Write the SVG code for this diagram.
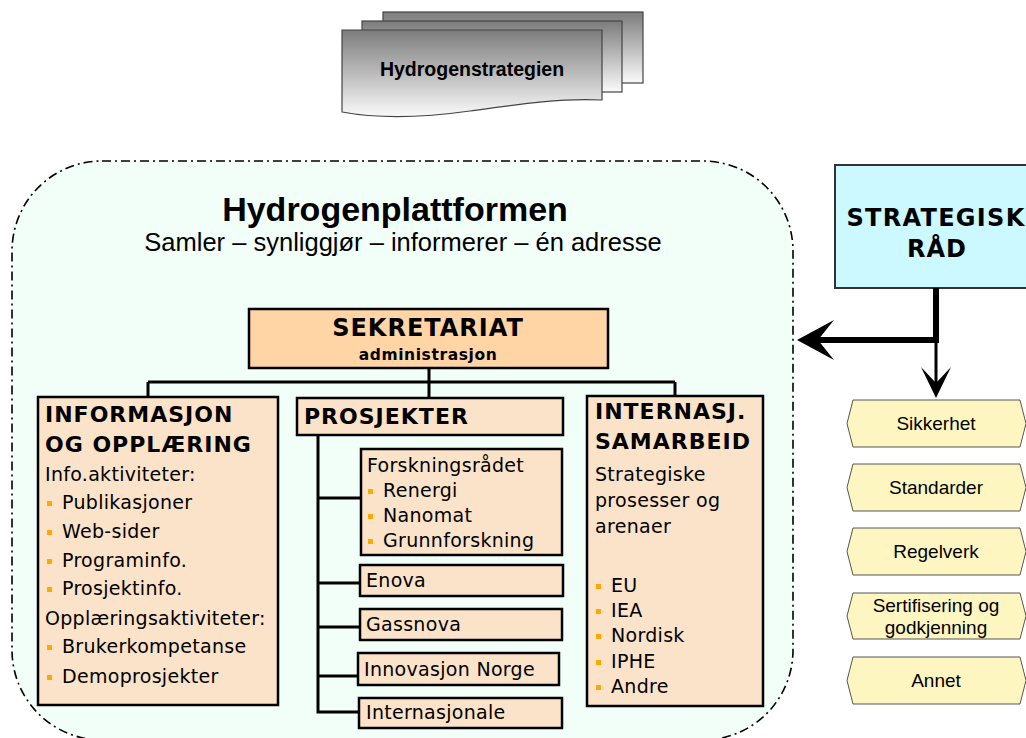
<svg xmlns="http://www.w3.org/2000/svg" width="1026" height="738" viewBox="0 0 1026 738">
<defs>
<linearGradient id="docGrad" x1="0" y1="0" x2="0" y2="1">
<stop offset="0" stop-color="#7c7c7c"/>
<stop offset="1" stop-color="#fafafa"/>
</linearGradient>
</defs>
<style>
.v{font-family:"DejaVu Sans",Verdana,sans-serif;fill:#000}
.b{font-weight:bold}
.h{font-size:22px;letter-spacing:1px}
.t{font-size:19px;letter-spacing:0.3px}
.a{font-family:"Liberation Sans",Arial,sans-serif;fill:#000}
.box{fill:#fbe3c9;stroke:#000;stroke-width:2.5}
.bul{fill:#ffa800}
.conn{stroke:#000;stroke-width:3;fill:none}
.doc{fill:url(#docGrad);stroke:#444;stroke-width:1.2}
.tag{fill:#fef6c0;stroke:#555;stroke-width:1}
.tagt{font-family:"Liberation Sans",Arial,sans-serif;font-size:19px;text-anchor:middle;fill:#000}
</style>
<rect width="1026" height="738" fill="#fff"/>

<g id="hydrogenstrategien">
<rect class="doc" x="383" y="12" width="260" height="71"/>
<rect class="doc" x="362" y="21" width="260" height="71"/>
<path class="doc" d="M342,30 H602 V100 C560,98 520,104 470,111 C420,118 380,119 342,112 Z"/>
<text class="a b" x="472" y="76" font-size="19.5" text-anchor="middle">Hydrogenstrategien</text>
</g>

<g id="hydrogenplattformen">
<rect x="12" y="161" width="781" height="579" rx="90" ry="90" fill="#f1fff8" stroke="#000" stroke-width="1.6" stroke-dasharray="9 4 2 4"/>
<text class="a b" x="395" y="221" font-size="34" text-anchor="middle">Hydrogenplattformen</text>
<text class="a" x="403" y="251" font-size="25.5" text-anchor="middle">Samler – synliggjør – informerer – én adresse</text>
</g>

<g id="strategisk-raad">
<rect x="835" y="165" width="200" height="123" fill="#ccf8ff" stroke="#333" stroke-width="2"/>
<text class="v b" x="936" y="226" font-size="24" letter-spacing="1.3" text-anchor="middle">STRATEGISK</text>
<text class="v b" x="937" y="257" font-size="24" letter-spacing="1" text-anchor="middle">RÅD</text>
</g>

<g id="connectors">
<path class="conn" d="M429,368 V397 M148,382 H675 M148,382 V397 M675,382 V396"/>
<path class="conn" d="M318,435 V712 H359 M318,498 H361 M318,583 H360 M318,627 H360 M318,676 H358"/>
<path d="M936,288 V340 H815" fill="none" stroke="#000" stroke-width="6"/>
<polygon points="797,340 834,320 818,340 834,360" fill="#000"/>
<path d="M936,340 V385" fill="none" stroke="#000" stroke-width="3"/>
<polygon points="936,398 921,367 936,383 951,367" fill="#000"/>
</g>

<g id="sekretariat">
<rect x="249" y="309" width="359" height="59" fill="#ffd5a6" stroke="#000" stroke-width="2.5"/>
<text class="v b" x="428" y="336" font-size="24" letter-spacing="1" text-anchor="middle">SEKRETARIAT</text>
<text class="v b" x="428" y="360" font-size="15.5" letter-spacing="0.6" text-anchor="middle">administrasjon</text>
</g>

<g id="informasjon">
<rect class="box" x="38" y="397" width="240" height="308"/>
<text class="v b h" x="45" y="422">INFORMASJON</text>
<text class="v b h" x="45" y="452">OG OPPLÆRING</text>
<text class="v t" x="45" y="481">Info.aktiviteter:</text>
<rect class="bul" x="47" y="501" width="5" height="5"/><text class="v t" x="62" y="509">Publikasjoner</text>
<rect class="bul" x="47" y="530" width="5" height="5"/><text class="v t" x="62" y="538">Web-sider</text>
<rect class="bul" x="47" y="559" width="5" height="5"/><text class="v t" x="62" y="567">Programinfo.</text>
<rect class="bul" x="47" y="587" width="5" height="5"/><text class="v t" x="62" y="595">Prosjektinfo.</text>
<text class="v t" x="45" y="625">Opplæringsaktiviteter:</text>
<rect class="bul" x="47" y="645" width="5" height="5"/><text class="v t" x="62" y="653">Brukerkompetanse</text>
<rect class="bul" x="47" y="675" width="5" height="5"/><text class="v t" x="62" y="683">Demoprosjekter</text>
</g>

<g id="prosjekter">
<rect class="box" x="297" y="398" width="266" height="37"/>
<text class="v b h" x="304" y="424">PROSJEKTER</text>
</g>

<g id="forskningsraadet">
<rect class="box" x="361" y="449" width="201" height="106"/>
<text class="v t" x="367" y="472">Forskningsrådet</text>
<rect class="bul" x="368" y="489" width="5" height="5"/><text class="v t" x="383" y="497">Renergi</text>
<rect class="bul" x="368" y="514" width="5" height="5"/><text class="v t" x="383" y="522">Nanomat</text>
<rect class="bul" x="368" y="539" width="5" height="5"/><text class="v t" x="383" y="547">Grunnforskning</text>
</g>

<g id="enova">
<rect class="box" x="360" y="565" width="203" height="31"/>
<text class="v t" x="366" y="587">Enova</text>
</g>

<g id="gassnova">
<rect class="box" x="360" y="609" width="202" height="31"/>
<text class="v t" x="366" y="631">Gassnova</text>
</g>

<g id="innovasjon-norge">
<rect class="box" x="358" y="653" width="201" height="32"/>
<text class="v t" x="364" y="676">Innovasjon Norge</text>
</g>

<g id="internasjonale">
<rect class="box" x="359" y="698" width="203" height="30"/>
<text class="v t" x="366" y="719">Internasjonale</text>
</g>

<g id="internasjonalt-samarbeid">
<rect class="box" x="587" y="396" width="176" height="310"/>
<text class="v b h" x="595" y="419">INTERNASJ.</text>
<text class="v b h" x="595" y="449">SAMARBEID</text>
<text class="v t" x="595" y="481">Strategiske</text>
<text class="v t" x="595" y="507">prosesser og</text>
<text class="v t" x="595" y="533">arenaer</text>
<rect class="bul" x="596" y="584" width="5" height="5"/><text class="v t" x="611" y="592">EU</text>
<rect class="bul" x="596" y="609" width="5" height="5"/><text class="v t" x="611" y="617">IEA</text>
<rect class="bul" x="596" y="634" width="5" height="5"/><text class="v t" x="611" y="642">Nordisk</text>
<rect class="bul" x="596" y="660" width="5" height="5"/><text class="v t" x="611" y="668">IPHE</text>
<rect class="bul" x="596" y="685" width="5" height="5"/><text class="v t" x="611" y="693">Andre</text>
</g>

<g id="sikkerhet">
<path class="tag" d="M847,423.5 L853,400 H1020 L1026,423.5 L1020,447 H853 Z"/>
<text class="tagt" x="936" y="430">Sikkerhet</text>
</g>
<g id="standarder">
<path class="tag" d="M847,487.5 L853,464 H1020 L1026,487.5 L1020,511 H853 Z"/>
<text class="tagt" x="936" y="494">Standarder</text>
</g>
<g id="regelverk">
<path class="tag" d="M847,551.5 L853,528 H1020 L1026,551.5 L1020,575 H853 Z"/>
<text class="tagt" x="936" y="558">Regelverk</text>
</g>
<g id="sertifisering">
<path class="tag" d="M847,616 L853,593 H1020 L1026,616 L1020,639 H853 Z"/>
<text class="tagt" x="936" y="612">Sertifisering og</text>
<text class="tagt" x="936" y="634">godkjenning</text>
</g>
<g id="annet">
<path class="tag" d="M847,680.5 L853,657 H1020 L1026,680.5 L1020,704 H853 Z"/>
<text class="tagt" x="936" y="687">Annet</text>
</g>
</svg>
